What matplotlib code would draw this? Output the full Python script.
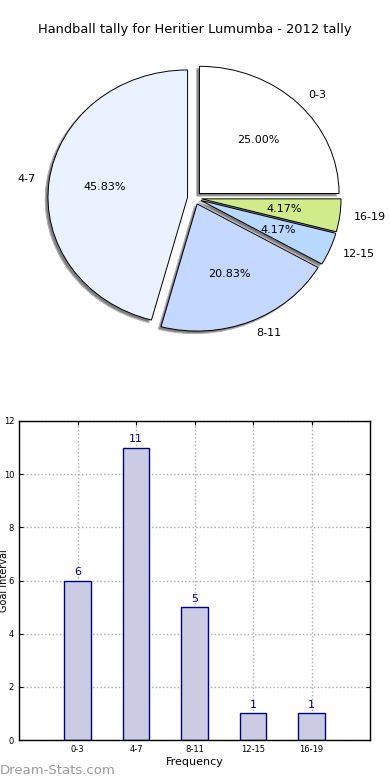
import matplotlib
matplotlib.use("Agg")
import matplotlib.pyplot as plt

categories = ["0-3", "4-7", "8-11", "12-15", "16-19"]
counts = [6, 11, 5, 1, 1]
pie_colors = ["#ffffff", "#eaf1ff", "#c5d8ff", "#b8d8ff", "#d0eb8a"]
explode = [0.05, 0.05, 0.05, 0.05, 0.05]
title = "Handball tally for Heritier Lumumba - 2012 tally"
yticks = [0, 2, 4, 6, 8, 10, 12]

W, H = 390, 780
fig = plt.figure(figsize=(W / 100, H / 100), dpi=100)

def ax_rect(left, top, right, bottom):
    return [left / W, 1 - bottom / H, (right - left) / W, (bottom - top) / H]

# ---- Pie ----
axp = fig.add_axes(ax_rect(20, 39, 369, 357))
wedges, texts, autotexts = axp.pie(
    counts, labels=categories, colors=pie_colors, explode=explode,
    autopct="%1.2f%%",
    shadow=dict(ox=-0.014, oy=-0.014, facecolor="#808080",
                edgecolor="#b0b0b0", linewidth=0.8, alpha=1.0),
    startangle=0,
    wedgeprops=dict(edgecolor="black", linewidth=0.7),
    textprops=dict(fontsize=8, color="black"))
axp.set_aspect("auto")
axp.set_xlim(-1.25, 1.25)
axp.set_ylim(-1.25, 1.25)
fig.text(0.5, 1 - 30 / H, title, ha="center", va="center", fontsize=9.4)

# ---- Bars ----
axb = fig.add_axes(ax_rect(19, 421, 370, 740))
x = list(range(len(categories)))
bars = axb.bar(x, counts, width=0.45, color="#cbcbe3", edgecolor="#000080",
               linewidth=1.0, zorder=2)
for xi, c in zip(x, counts):
    axb.text(xi, c + 0.12, str(c), ha="center", va="bottom", fontsize=8,
             color="#000099", zorder=3)
axb.set_xlim(-1, 5)
axb.set_ylim(0, 12)
axb.set_yticks(yticks)
axb.set_xticks(x)
axb.set_xticklabels(categories)
axb.tick_params(axis="both", direction="in", labelsize=6, length=3,
                top=True, right=True)
axb.grid(True, linestyle=":", color="#aaaaaa", linewidth=1.0, zorder=0)
axb.set_axisbelow(True)
axb.set_xlabel("Frequency", fontsize=8, labelpad=2)
axb.set_ylabel("Goal Interval", fontsize=7)
axb.yaxis.set_label_coords(-0.028, 0.5)
for s in axb.spines.values():
    s.set_linewidth(1.0)

fig.text(0 / W, 1 - 770 / H, "Dream-Stats.com", ha="left", va="center",
         fontsize=9.5, color="#9a9a9a")

fig.savefig("out.png", dpi=100)
